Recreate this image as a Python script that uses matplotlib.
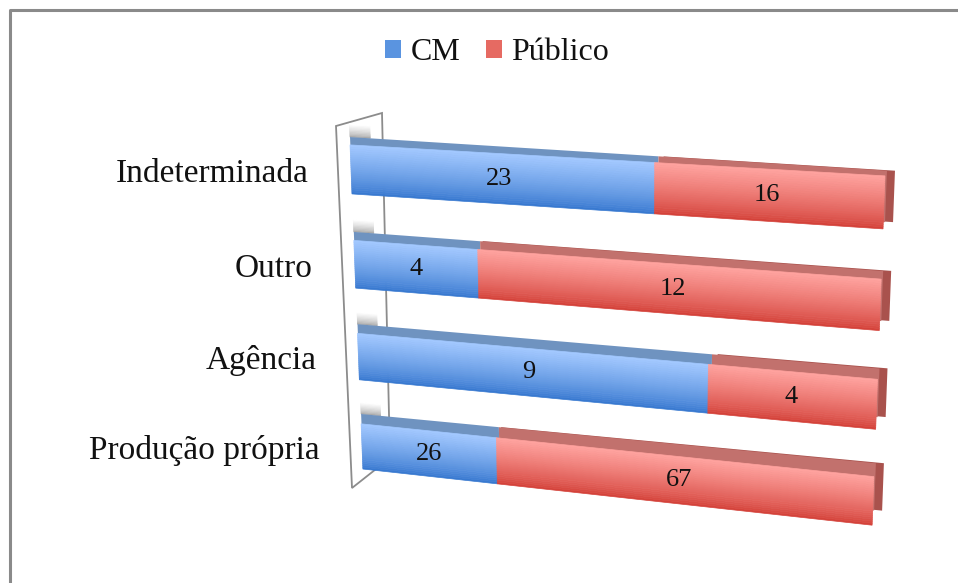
import numpy as np
import matplotlib.pyplot as plt
from matplotlib.transforms import Transform, IdentityTransform
from matplotlib.patches import Patch, Polygon
from matplotlib.lines import Line2D
from matplotlib.colors import to_rgb

plt.rcParams['font.family'] = ['Liberation Serif', 'DejaVu Serif']

# data (bottom to top)
categories = ['Produção própria', 'Agência', 'Outro', 'Indeterminada']
cm_values = [26, 9, 4, 23]
publico_values = [67, 4, 12, 16]
series_names = ['CM', 'Público']

blue_light, blue_dark, blue_top = '#a2c8ff', '#3879d0', '#6f93c0'
red_light, red_dark, red_top = '#ffa29e', '#d4423a', '#c2716d'
red_side = '#a9524d'
colour_text = '#111111'

W, H = 958, 583


def px(x, y):
    # image pixel (y down) -> display pixel (y up)
    return (x, H - y)


def homography(src, dst):
    A, b = [], []
    for (x, y), (u, v) in zip(src, dst):
        A.append([x, y, 1, 0, 0, 0, -u * x, -u * y]); b.append(u)
        A.append([0, 0, 0, x, y, 1, -v * x, -v * y]); b.append(v)
    h = np.linalg.solve(np.array(A, float), np.array(b, float))
    return np.append(h, 1).reshape(3, 3)


class Persp(Transform):
    input_dims = output_dims = 2

    def __init__(self, M):
        super().__init__()
        self.M = M

    def transform_non_affine(self, pts):
        pts = np.asarray(pts, float)
        q = np.column_stack([pts, np.ones(len(pts))]) @ self.M.T
        return q[:, :2] / q[:, 2:]


fig = plt.figure(figsize=(W / 100, H / 100), dpi=100)

# flat axes: bars from x=351 to 884 px, row centres 169.5 (top) .. 446.5 (bottom)
row_px = 277 / 3
ax = fig.add_axes([351 / W, (H - 446.5 - 0.6 * row_px) / H, 533 / W, 4.2 * row_px / H])
ax.set_xlim(0, 1)
ax.set_ylim(-0.6, 3.6)
ax.axis('off')

src = [px(351, 169.5), px(884, 169.5), px(351, 446.5), px(884, 446.5)]
T_front = ax.transData + Persp(homography(src, [px(351, 169.5), px(884, 202.5), px(362, 446.5), px(873, 501)]))
T_top = ax.transData + Persp(homography(src, [px(351, 161.5), px(886, 196.5), px(362, 436.5), px(875, 487)]))
T_back = ax.transData + Persp(homography(src, [px(352, 161.5), px(894, 196.5), px(362, 436.5), px(883, 487)]))

# wall on the left
wall = Polygon([px(336, 126), px(382, 113), px(390, 458), px(352, 488)], closed=True,
               transform=IdentityTransform(), facecolor='white', edgecolor='#8c8c8c',
               lw=1.3, clip_on=False, zorder=0)
ax.add_patch(wall)

y = np.arange(len(categories))
tot = np.array(cm_values) + np.array(publico_values)
cm_frac = np.array(cm_values) / tot
pub_frac = np.array(publico_values) / tot
bar_h = 0.51


def put(bars, T, z=1):
    for r in bars:
        r.set_transform(T)
        r.set_clip_on(False)
        r.set_zorder(z)


def mix(c1, c2, f):
    c1, c2 = np.array(to_rgb(c1)), np.array(to_rgb(c2))
    return tuple(c1 + (c2 - c1) * f)


# soft shadows on the wall, just above each bar
ns = 10
for k in range(ns):
    f = k / (ns - 1)
    cs = mix('#a8a8a8', '#ffffff', f ** 0.7)
    put(ax.barh(y + bar_h / 2 + (k + 0.5) * 0.014, 0.04, height=0.014, color=cs, ec=cs, lw=0.5),
        T_top, 0.5)

put(ax.barh(y, pub_frac, left=cm_frac, height=bar_h, color=red_side, lw=0), T_back)
put(ax.barh(y, cm_frac, height=bar_h, color=blue_top, lw=0), T_top, 2)
put(ax.barh(y, pub_frac, left=cm_frac, height=bar_h, color=red_top, lw=0), T_top, 2)

n = 24
for k in range(n):
    f = k / (n - 1)
    off = -bar_h / 2 + (k + 0.5) * bar_h / n
    cb = mix(blue_dark, blue_light, f ** 0.8)
    cr = mix(red_dark, red_light, f ** 0.8)
    put(ax.barh(y + off, cm_frac, height=bar_h / n, color=cb, ec=cb, lw=0.5), T_front, 3)
    put(ax.barh(y + off, pub_frac, left=cm_frac, height=bar_h / n, color=cr, ec=cr, lw=0.5), T_front, 3)

for i in range(len(categories)):
    ax.text(cm_frac[i] / 2, y[i], str(cm_values[i]), transform=T_front, ha='center', va='center',
            fontsize=19, color=colour_text, clip_on=False, zorder=5)
    ax.text(cm_frac[i] + pub_frac[i] / 2, y[i], str(publico_values[i]), transform=T_front, ha='center',
            va='center', fontsize=19, color=colour_text, clip_on=False, zorder=5)
    ax.annotate(categories[i], xy=(0, y[i]), xycoords=T_front, xytext=(-42, -4), textcoords='offset pixels',
                ha='right', va='center', fontsize=24, color=colour_text, annotation_clip=False)

fig.legend(handles=[Patch(facecolor='#5a94e0'), Patch(facecolor='#e66a62')], labels=series_names,
           ncol=2, loc='center', bbox_to_anchor=(497 / W, 1 - 53 / H), frameon=False, fontsize=23,
           handlelength=0.5, handleheight=0.5, handletextpad=0.3, columnspacing=0.8,
           labelcolor=colour_text)

# outer chart border (only top and left visible)
fig.add_artist(Line2D([10 / W, 10 / W, 1.0], [0.0, 1 - 10 / H, 1 - 10 / H], transform=fig.transFigure,
                      color='#8a8a8a', lw=2.2))

fig.savefig('out.png', dpi=100)
